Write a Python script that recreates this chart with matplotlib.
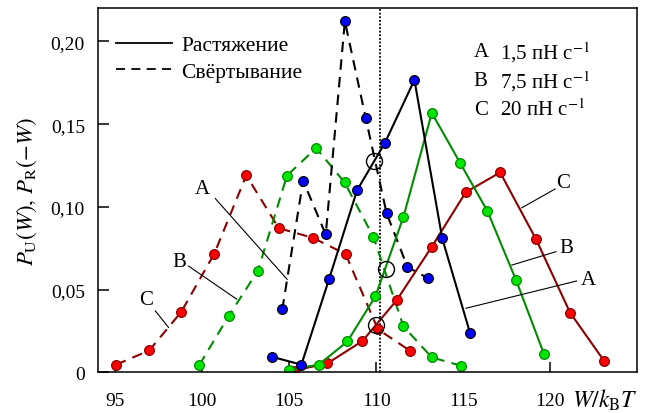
"""
Work distributions for stretching / folding at three loading rates
"""

import matplotlib
matplotlib.use('Agg')
import matplotlib.pyplot as plt
from matplotlib.lines import Line2D

plt.rcParams['font.family'] = ['Liberation Serif', 'DejaVu Serif']
plt.rcParams['mathtext.fontset'] = 'stix'
plt.rcParams['font.size'] = 14

# A = 1,5 pN/s (blue), B = 7,5 pN/s (green), C = 20 pN/s (red)
w_a_str = [104.0, 105.7, 107.3, 108.9, 110.5, 112.2, 113.8, 115.4]
p_a_str = [0.0094, 0.0046, 0.0566, 0.110, 0.1386, 0.1767, 0.0809, 0.0237]
w_a_fold = [104.6, 105.8, 107.1, 108.2, 109.4, 110.6, 111.8, 113.0]
p_a_fold = [0.038, 0.1158, 0.0833, 0.2122, 0.1536, 0.0961, 0.0636, 0.0568]

w_b_str = [105.0, 106.7, 108.35, 109.96, 111.57, 113.2, 114.83, 116.4, 118.05, 119.66]
p_b_str = [0.0016, 0.0046, 0.0187, 0.046, 0.094, 0.1568, 0.1265, 0.0974, 0.0556, 0.0108]
w_b_fold = [99.83, 101.51, 103.2, 104.87, 106.55, 108.18, 109.84, 111.57, 113.2, 114.87]
p_b_fold = [0.0044, 0.0339, 0.0614, 0.1189, 0.1355, 0.1148, 0.0819, 0.0277, 0.009, 0.004]

w_c_str = [105.25, 107.2, 109.21, 111.19, 113.2, 115.15, 117.13, 119.2, 121.15, 123.1]
p_c_str = [0.001, 0.0054, 0.0189, 0.0437, 0.0759, 0.1088, 0.1208, 0.0803, 0.0361, 0.007]
w_c_fold = [95.04, 96.95, 98.79, 100.69, 102.53, 104.4, 106.36, 108.24, 110.1, 111.95]
p_c_fold = [0.0046, 0.0132, 0.0365, 0.0717, 0.119, 0.0871, 0.0813, 0.0715, 0.026, 0.013]

# crossing points (circled) and dG estimate
w_cross = [109.88, 110.56, 109.99]
p_cross = [0.128, 0.0626, 0.0285]
w_dg = 110.2

xticks = [95, 100, 105, 110, 115, 120]
yticks = [0, 0.05, 0.10, 0.15, 0.20]
ytick_labels = ['0', '0,05', '0,10', '0,15', '0,20']
rate_letters = ['A', 'B', 'C']
rate_labels = ['1,5 пН с$^{-1}$', '7,5 пН с$^{-1}$', '20 пН с$^{-1}$']

fig = plt.figure(figsize=(6.53, 4.14), dpi=100)
ax = fig.add_axes([0.150, 0.0983, 0.8255, 0.8792])

series = [
    (w_c_fold, p_c_fold, '#8b0000', '#ff0000', 'dashed'),
    (w_b_fold, p_b_fold, '#008c00', '#00e600', 'dashed'),
    (w_a_fold, p_a_fold, 'black', '#0000ff', 'dashed'),
    (w_c_str, p_c_str, '#8b0000', '#ff0000', 'solid'),
    (w_b_str, p_b_str, '#008c00', '#00e600', 'solid'),
    (w_a_str, p_a_str, 'black', '#0000ff', 'solid'),
]
for w, p, lc, fc, ls in series:
    line, = ax.plot(w, p, color=lc, lw=1.5, ls=ls, marker='o', ms=7,
                    mfc=fc, mec=lc, mew=0.9)
    if ls == 'dashed':
        line.set_dashes((5, 3.5))

ax.axvline(w_dg, color='black', ls=(0, (1, 1)), lw=1.3, zorder=1)
ax.plot(w_cross, p_cross, 'o', ms=11.5, mfc='none', mec='black', mew=1.0)

# curve labels with leader lines
leaders = [
    ('A', (99.98, 0.1108), (100.75, 0.105), (104.88, 0.0562)),
    ('B', (98.68, 0.0672), (99.21, 0.0642), (101.98, 0.0442)),
    ('C', (96.78, 0.0442), (97.30, 0.0371), (98.06, 0.0271)),
    ('C', (120.76, 0.1145), (120.29, 0.1108), (118.37, 0.0994)),
    ('B', (120.96, 0.0753), (120.34, 0.0729), (117.80, 0.0648)),
    ('A', (122.20, 0.0558), (121.53, 0.0552), (115.16, 0.0387)),
]
for txt, tpos, p0, p1 in leaders:
    ax.text(tpos[0], tpos[1], txt, ha='center', va='center', fontsize=15)
    ax.plot([p0[0], p1[0]], [p0[1], p1[1]], color='black', lw=0.8)

# loading rates block
for i, (let, lab) in enumerate(zip(rate_letters, rate_labels)):
    y = 0.88 - i * 0.079
    ax.text(0.697, y, let, transform=ax.transAxes, ha='left', va='center', fontsize=15)
    ax.text(0.745, y, lab, transform=ax.transAxes, ha='left', va='center', fontsize=15)

handles = [Line2D([], [], color='black', lw=1.3, ls='solid'),
           Line2D([], [], color='black', lw=1.3, ls=(0, (5, 3.5)))]
ax.legend(handles, ['Растяжение', 'Свёртывание'], loc='upper left',
          bbox_to_anchor=(0.005, 0.967), frameon=False, fontsize=15.5,
          handlelength=2.6, handletextpad=0.45, labelspacing=0.3,
          borderaxespad=0.3)

ax.set_xlim(94, 125)
ax.set_ylim(0, 0.22)
ax.set_xticks(xticks)
ax.set_yticks(yticks)
ax.set_yticklabels(ytick_labels)
ax.tick_params(direction='in', top=False, right=False, labelsize=14, width=1.1)
ax.tick_params(axis='y', length=8, pad=9.4)
ax.tick_params(axis='x', length=7, pad=14)
for sp in ax.spines.values():
    sp.set_linewidth(1.1)

ax.set_ylabel('$P_{\\rm U}(W),\\, P_{\\rm R}(-W)$', fontsize=16.5)
ax.yaxis.set_label_coords(-0.11, 0.5)
ax.text(1.002, -0.075, '$W/k_{\\rm B}T$', transform=ax.transAxes,
        ha='right', va='center', fontsize=17)

fig.savefig('out.png', dpi=100)
